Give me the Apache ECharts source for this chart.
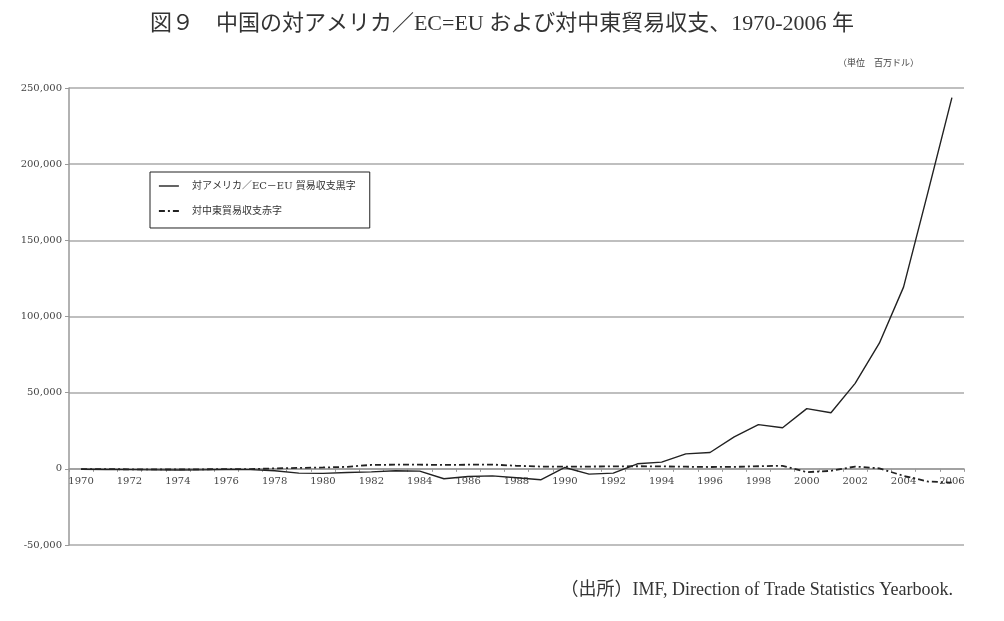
<!DOCTYPE html>
<html>
<head>
<meta charset="utf-8">
<script src="https://cdn.jsdelivr.net/npm/echarts@6/dist/echarts.min.js"></script>
<style>
  html, body { margin: 0; padding: 0; background: #fff; }
  #chart { width: 1004px; height: 621px; }
</style>
</head>
<body>
<div id="chart"></div>
<script>
const years = [];
for (let y = 1970; y <= 2006; y++) years.push(String(y));

// 対アメリカ／EC=EU 貿易収支黒字 (百万ドル)
const usEuSurplus = [
  -300, -400, -500, -700, -800, -700, -400, -500, -1300, -2800,
  -3000, -2400, -2000, -1300, -1500, -6500, -5000, -4600, -5900, -7200,
  900, -3500, -2800, 3300, 4400, 9800, 10700, 21000, 29000, 27000,
  39500, 36800, 56100, 82500, 119300, 181000, 243700
];

// 対中東貿易収支赤字 (百万ドル)
const middleEastDeficit = [
  -200, -200, -300, -400, -400, -300, -200, -200, 300, 600,
  900, 1300, 2600, 2700, 2700, 2600, 2700, 2800, 2000, 1500,
  1500, 1500, 1600, 1700, 1600, 1400, 1200, 1300, 1700, 2000,
  -2200, -1300, 1500, 300, -4600, -8300, -9000
];

const yMin = -50000;
const yMax = 250000;
const yStep = 50000;

const seriesNames = ['対アメリカ／EC－EU 貿易収支黒字', '対中東貿易収支赤字'];

const serif = '"Liberation Serif", "Noto Sans CJK JP", serif';
const labelFont = '"DejaVu Serif", "Noto Sans CJK JP", serif';

const gridTop = 88;
const gridBottom = 76;
const chartHeight = 621;
// move the category axis up onto the zero line
const plotHeight = chartHeight - gridTop - gridBottom;
const zeroOffset = -((0 - yMin) / (yMax - yMin)) * plotHeight;

const dashDot = [6, 3, 2, 3];

const chart = echarts.init(document.getElementById('chart'), null, { renderer: 'canvas' });

const option = {
  animation: false,
  backgroundColor: '#fff',
  title: [
    {
      text: '図９　中国の対アメリカ／EC=EU および対中東貿易収支、1970-2006 年',
      left: 'center',
      top: 8,
      textStyle: { fontFamily: serif, fontSize: 22, fontWeight: 'normal', color: '#333' },
    },
    {
      text: '（単位　百万ドル）',
      right: 80,
      top: 54,
      textStyle: { fontFamily: serif, fontSize: 9, fontWeight: 'normal', color: '#444' },
    },
    {
      text: '（出所）IMF, Direction of Trade Statistics Yearbook.',
      right: 46,
      top: 576,
      textStyle: { fontFamily: serif, fontSize: 18, fontWeight: 'normal', color: '#333' },
    },
  ],
  legend: {
    orient: 'vertical',
    left: 150,
    top: 172,
    padding: [9, 14, 12, 8],
    itemGap: 15,
    itemWidth: 20,
    itemHeight: 10,
    borderColor: '#222',
    borderWidth: 1,
    textStyle: { fontFamily: labelFont, fontSize: 10, color: '#333', padding: [0, 0, 0, 8] },
    itemStyle: { opacity: 0 },
    data: [
      { name: seriesNames[0], lineStyle: { color: '#222', width: 1.4, type: 'solid' } },
      { name: seriesNames[1], lineStyle: { color: '#222', width: 1.8, type: dashDot } },
    ],
  },
  grid: { left: 69, right: 40, top: gridTop, bottom: gridBottom },
  xAxis: {
    type: 'category',
    data: years,
    boundaryGap: true,
    offset: zeroOffset,
    axisLine: { onZero: false, lineStyle: { color: '#999', width: 1.5 } },
    axisTick: { show: true, interval: 0, length: 3, lineStyle: { color: '#999' } },
    axisLabel: {
      interval: 1,
      margin: 8,
      fontFamily: labelFont,
      fontSize: 10,
      color: '#444',
    },
    splitLine: { show: false },
  },
  yAxis: {
    type: 'value',
    min: yMin,
    max: yMax,
    interval: yStep,
    axisLine: { show: true, lineStyle: { color: '#999', width: 1.5 } },
    axisTick: { show: true, length: 4, lineStyle: { color: '#999' } },
    axisLabel: {
      margin: 7,
      fontFamily: labelFont,
      fontSize: 10,
      color: '#444',
      formatter: (v) => v.toLocaleString('en-US'),
    },
    splitLine: { show: true, lineStyle: { color: '#aaa', width: 1.5 } },
  },
  series: [
    {
      name: seriesNames[0],
      type: 'line',
      data: usEuSurplus,
      showSymbol: false,
      symbol: 'none',
      lineStyle: { color: '#222', width: 1.4 },
      itemStyle: { color: '#222' },
    },
    {
      name: seriesNames[1],
      type: 'line',
      data: middleEastDeficit,
      showSymbol: false,
      symbol: 'none',
      lineStyle: { color: '#222', width: 1.8, type: dashDot },
      itemStyle: { color: '#222' },
    },
  ],
};

chart.setOption(option);
</script>
</body>
</html>
